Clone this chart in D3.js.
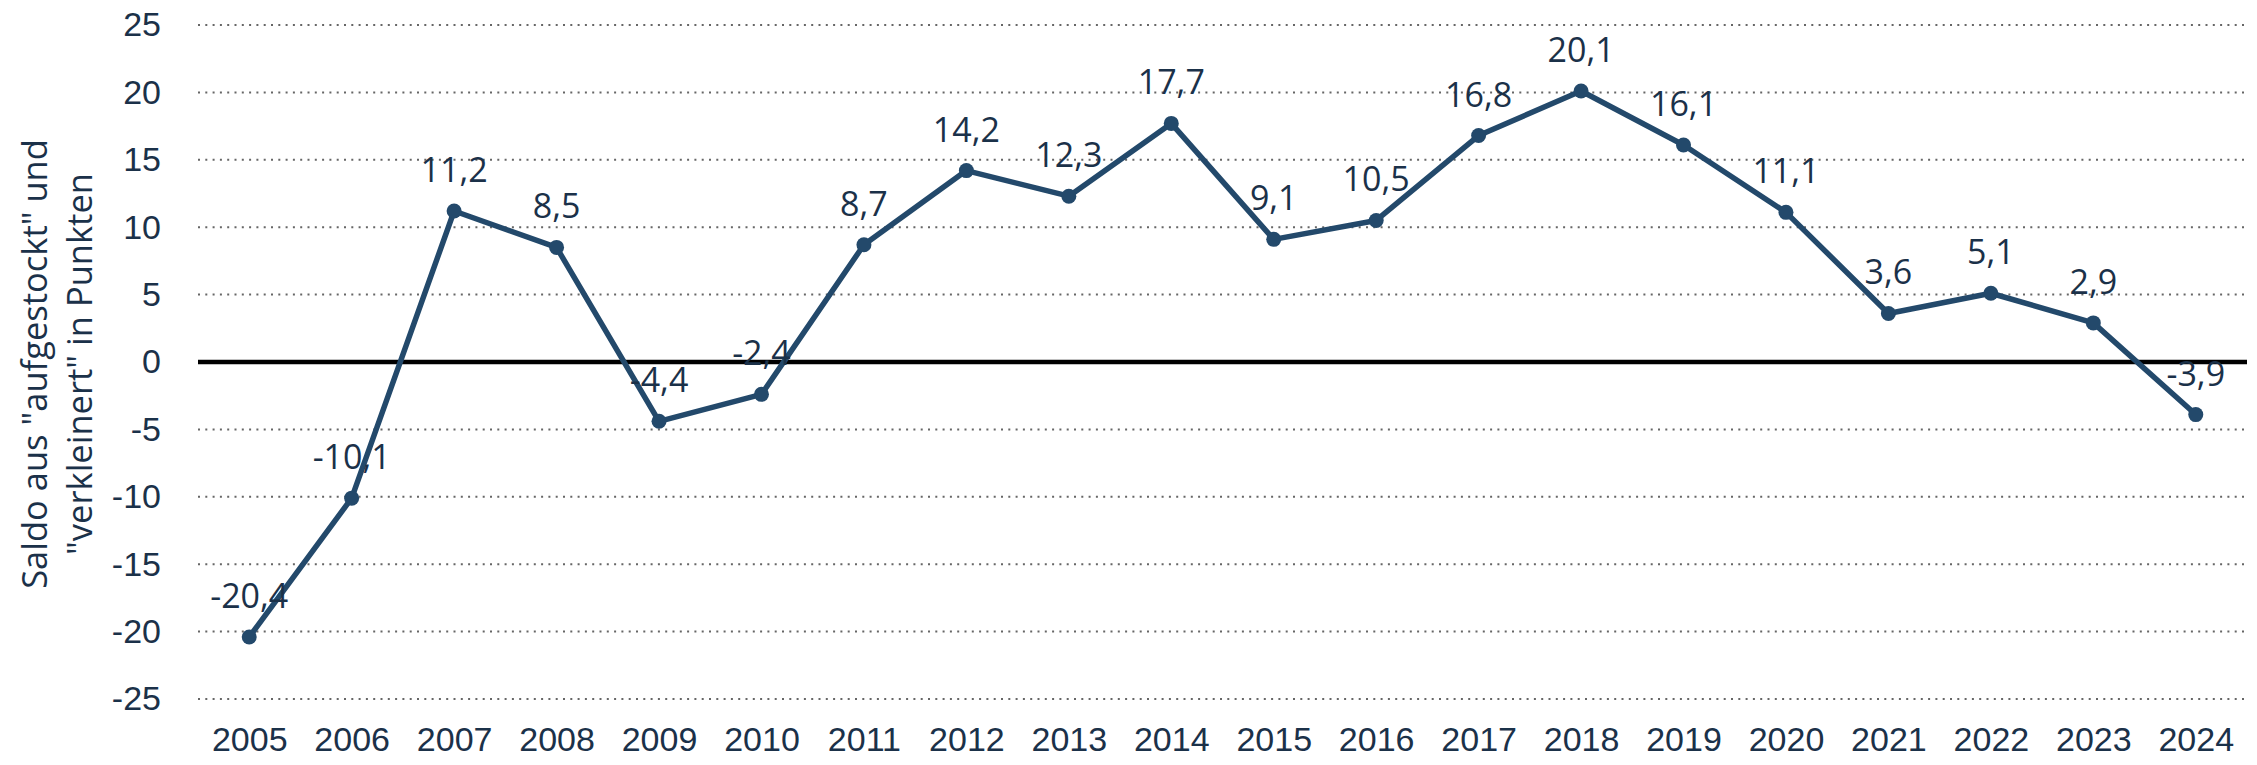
<!DOCTYPE html>
<html>
<head>
<meta charset="utf-8">
<script src="https://cdn.jsdelivr.net/npm/d3@7"></script>
<style>
  body { margin: 0; background: #fff; }
  svg { display: block; font-family: "Open Sans", sans-serif; }
  .grid line { stroke: #666; stroke-width: 2; stroke-dasharray: 2,5.3; }
  .axis text { fill: #1b3149; font-size: 34px; }
</style>
</head>
<body>
<svg id="chart"></svg>
<script>
var years = ["2005", "2006", "2007", "2008", "2009", "2010", "2011", "2012", "2013", "2014",
             "2015", "2016", "2017", "2018", "2019", "2020", "2021", "2022", "2023", "2024"];
var saldo = [-20.4, -10.1, 11.2, 8.5, -4.4, -2.4, 8.7, 14.2, 12.3, 17.7,
             9.1, 10.5, 16.8, 20.1, 16.1, 11.1, 3.6, 5.1, 2.9, -3.9];
var yTicks = [-25, -20, -15, -10, -5, 0, 5, 10, 15, 20, 25];
var yTitle = ["Saldo aus \"aufgestockt\" und", "\"verkleinert\" in Punkten"];

var W = 2257, H = 765;
var margin = { top: 25, right: 10, bottom: 66, left: 198 },
    width = W - margin.left - margin.right,
    height = H - margin.top - margin.bottom;

var textColor = "#1b3149", lineColor = "#23496b";

var de = d3.formatLocale({ decimal: ",", thousands: ".", grouping: [3], currency: ["", " €"], minus: "-" });
var fmt = de.format(".1f");
var fmtTick = de.format("d");

var svg = d3.select("#chart").attr("width", W).attr("height", H);
var g = svg.append("g").attr("transform", "translate(" + margin.left + "," + margin.top + ")");

var x = d3.scalePoint().domain(years).range([0, width]).padding(0.5);
var y = d3.scaleLinear().domain([-25, 25]).range([height, 0]);

// dotted grid
g.append("g").attr("class", "grid")
    .selectAll("line")
    .data(yTicks.filter(function (d) { return d !== 0; }))
    .enter().append("line")
    .attr("x1", 0).attr("x2", width)
    .attr("y1", function (d) { return y(d); })
    .attr("y2", function (d) { return y(d); });

// zero line
g.append("line")
    .attr("x1", 0).attr("x2", width)
    .attr("y1", y(0)).attr("y2", y(0))
    .attr("stroke", "#000").attr("stroke-width", 4.5);

// y axis
var yAxis = d3.axisLeft(y).tickValues(yTicks).tickFormat(fmtTick).tickSize(0).tickPadding(37);
g.append("g").attr("class", "axis").call(yAxis)
    .call(function (a) { a.select(".domain").remove(); });

// x axis
var xAxis = d3.axisBottom(x).tickSize(0).tickPadding(28);
g.append("g").attr("class", "axis")
    .attr("transform", "translate(0," + height + ")")
    .call(xAxis)
    .call(function (a) { a.select(".domain").remove(); });

// y title
var title = svg.append("text")
    .attr("transform", "translate(47,364) rotate(-90)")
    .attr("text-anchor", "middle")
    .attr("fill", textColor)
    .style("font-size", "34.5px");
title.selectAll("tspan").data(yTitle).enter().append("tspan")
    .attr("x", 0)
    .attr("dy", function (d, i) { return i === 0 ? 0 : 45; })
    .text(function (d) { return d; });

// line
var line = d3.line()
    .x(function (d, i) { return x(years[i]); })
    .y(function (d) { return y(d); });

g.append("path")
    .datum(saldo)
    .attr("fill", "none")
    .attr("stroke", lineColor)
    .attr("stroke-width", 5.5)
    .attr("stroke-linejoin", "round")
    .attr("d", line);

g.selectAll(".dot")
    .data(saldo)
    .enter().append("circle")
    .attr("class", "dot")
    .attr("cx", function (d, i) { return x(years[i]); })
    .attr("cy", function (d) { return y(d); })
    .attr("r", 7.5)
    .attr("fill", lineColor);

g.selectAll(".lbl")
    .data(saldo)
    .enter().append("text")
    .attr("class", "lbl")
    .attr("x", function (d, i) { return x(years[i]); })
    .attr("y", function (d) { return y(d) - 29; })
    .attr("text-anchor", "middle")
    .attr("fill", textColor)
    .style("font-size", "34px")
    .text(fmt);
</script>
</body>
</html>
